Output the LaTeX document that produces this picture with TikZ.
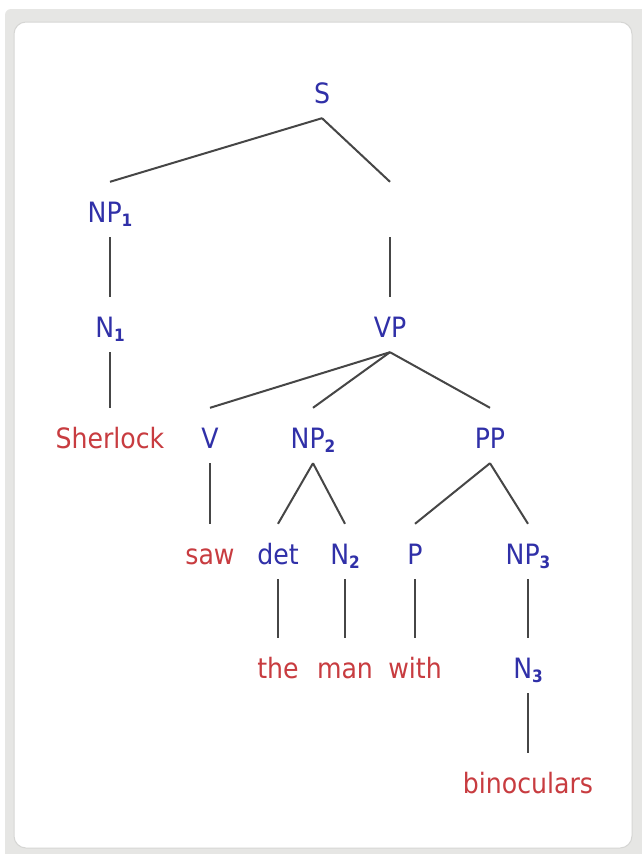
\documentclass[tikz,border=0pt]{standalone}
\usepackage{fontspec}
\setmainfont{DejaVu Sans Condensed}
\definecolor{catblue}{RGB}{48,48,168}
\definecolor{wordred}{RGB}{200,60,64}
\definecolor{edgegray}{RGB}{70,70,70}
\definecolor{bandgray}{RGB}{230,230,228}
\definecolor{framegray}{RGB}{214,214,212}
\tikzset{
  lbl/.style={anchor=base, font=\fontsize{28}{30}\selectfont, text height=30pt, text depth=5pt, inner xsep=2pt, inner ysep=10pt},
  cat/.style={lbl, text=catblue},
  word/.style={lbl, text=wordred},
  branch/.style={draw=edgegray, line width=2pt},
}
\newcommand\subidx[1]{\raisebox{-4pt}{\fontsize{17}{17}\selectfont\bfseries #1}}
\begin{document}
\begin{tikzpicture}[x=1pt,y=-1pt]
\useasboundingbox (0,0) rectangle (642,854);
\fill[white] (0,0) rectangle (642,854);
\fill[bandgray, rounded corners=6pt] (5,9) rectangle (660,870);
\draw[framegray, fill=white, line width=1pt, rounded corners=12pt] (14,22) rectangle (632,848);

% categories and words
\node[cat]  (S)    at (322,103) {S};
\node[cat]  (NP1)  at (110,222) {NP\subidx{1}};
\node[lbl]  (E)    at (390,222) {};
\node[cat]  (N1)   at (110,337) {N\subidx{1}};
\node[cat]  (VP)   at (390,337) {VP};
\node[word] (Sher) at (110,448) {Sherlock};
\node[cat]  (V)    at (210,448) {V};
\node[cat]  (NP2)  at (313,448) {NP\subidx{2}};
\node[cat]  (PP)   at (490,448) {PP};
\node[word] (saw)  at (210,564) {saw};
\node[cat]  (det)  at (278,564) {det};
\node[cat]  (N2)   at (345,564) {N\subidx{2}};
\node[cat]  (P)    at (415,564) {P};
\node[cat]  (NP3)  at (528,564) {NP\subidx{3}};
\node[word] (the)  at (278,678) {the};
\node[word] (man)  at (345,678) {man};
\node[word] (with) at (415,678) {with};
\node[cat]  (N3)   at (528,678) {N\subidx{3}};
\node[word] (bino) at (528,793) {binoculars};

% branches
\draw[branch] (S.south) -- (NP1.north);
\draw[branch] (S.south) -- (E.north);
\draw[branch] (E.south) -- (VP.north);
\draw[branch] (NP1.south) -- (N1.north);
\draw[branch] (N1.south) -- (Sher.north);
\draw[branch] (VP.south) -- (V.north);
\draw[branch] (VP.south) -- (NP2.north);
\draw[branch] (VP.south) -- (PP.north);
\draw[branch] (V.south) -- (saw.north);
\draw[branch] (NP2.south) -- (det.north);
\draw[branch] (NP2.south) -- (N2.north);
\draw[branch] (PP.south) -- (P.north);
\draw[branch] (PP.south) -- (NP3.north);
\draw[branch] (det.south) -- (the.north);
\draw[branch] (N2.south) -- (man.north);
\draw[branch] (P.south) -- (with.north);
\draw[branch] (NP3.south) -- (N3.north);
\draw[branch] (N3.south) -- (bino.north);
\end{tikzpicture}
\end{document}
